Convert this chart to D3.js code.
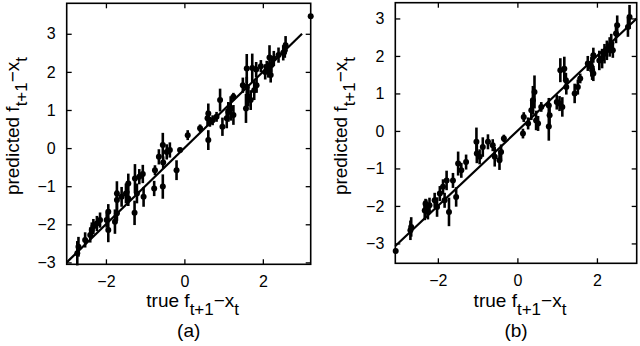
<!DOCTYPE html>
<html>
<head>
<meta charset="utf-8">
<script src="https://d3js.org/d3.v7.min.js"></script>
<style>
  body { margin: 0; background: #fff; }
  svg { display: block; font-family: "Liberation Sans", Arial, sans-serif; }
</style>
</head>
<body>
<div id="chart"></div>
<script>
// panel (a): true vs predicted, with error bar half-lengths
var aTrue = [3.22, 2.58, 2.56, 2.52, 2.40, 2.28, 2.17, 2.22, 2.10, 2.14, 2.20, 2.06, 1.95, 1.83, 1.73, 1.59, 1.59, 1.63, 1.57, 1.69,
	1.78, 1.84, 1.49, 1.25, 1.18, 1.25, 1.12, 1.08, 0.97, 0.91, 0.82, 0.72, 0.65, 0.61, 0.59, 0.61, 0.40, 0.085, -0.11, -0.20,
	-0.37, -0.45, -0.55, -0.65, -0.54, -0.75, -0.55, -0.77, -1.06, -1.15, -1.26, -1.04, -1.21, -1.27, -1.43, -1.49, -1.43, -1.60, -1.72, -1.72,
	-1.72, -1.77, -1.94, -1.98, -1.94, -2.15, -2.23, -2.32, -2.36, -2.40, -2.53, -2.70, -2.73];
var aPred = [3.46, 2.70, 2.57, 2.50, 2.44, 2.35, 2.38, 2.18, 2.13, 2.05, 1.92, 2.00, 2.15, 2.06, 2.10, 2.09, 1.61, 1.35, 1.04, 1.26,
	1.52, 1.65, 1.65, 1.35, 1.04, 0.87, 0.95, 0.78, 0.56, 1.26, 0.82, 0.73, 0.69, 0.91, 0.78, 0.21, 0.52, 0.34, -0.05, -0.58,
	-0.05, -0.10, 0.08, -0.23, -0.38, -0.58, -1.01, -1.06, -0.68, -0.75, -0.80, -1.28, -1.19, -1.70, -0.93, -1.19, -1.32, -1.28, -1.19, -1.36,
	-1.71, -1.93, -1.67, -1.89, -2.15, -1.89, -1.98, -2.06, -2.15, -2.28, -2.41, -2.59, -2.76];
var aErr = [0.06, 0.24, 0.2, 0.2, 0.2, 0.2, 0.32, 0.2, 0.16, 0.2, 0.2, 0.2, 0.16, 0.2, 0.38, 0.38, 0.26, 0.26, 0.38, 0.26,
	0.26, 0.2, 0.2, 0.1, 0.32, 0.26, 0.26, 0.26, 0.24, 0.3, 0.13, 0.13, 0.13, 0.26, 0.2, 0.26, 0.1, 0.13, 0.06, 0.26,
	0.2, 0.2, 0.32, 0.2, 0.16, 0.13, 0.32, 0.2, 0.24, 0.2, 0.38, 0.26, 0.26, 0.32, 0.26, 0.26, 0.2, 0.26, 0.32, 0.26,
	0.2, 0.32, 0.2, 0.2, 0.32, 0.2, 0.2, 0.2, 0.2, 0.2, 0.2, 0.26, 0.32];

// panel (b)
var bTrue = [-3.06, -2.69, -2.67, -2.33, -2.29, -2.25, -2.21, -2.31, -2.08, -2.02, -1.95, -1.87, -1.78, -1.83, -1.72, -1.62, -1.54, -1.49, -1.41, -1.29,
	-1.03, -1.02, -0.95, -0.87, -0.74, -0.62, -0.57, -0.45, -0.41, -0.34, 0.16, 0.14, 0.27, 0.35, 0.39, 0.43, 0.47, 0.52, 0.60, 0.79,
	0.81, 0.79, 0.99, 1.06, 1.13, 1.08, 1.18, 1.22, 1.23, 1.44, 1.52, 1.58, 1.77, 1.86, 1.88, 1.91, 1.91, 2.06, 2.13, 2.19,
	2.25, 2.32, 2.36, 2.40, 2.48, 2.51, 2.78, 2.82];
var bPred = [-3.20, -2.65, -2.56, -2.12, -2.03, -2.16, -1.98, -1.94, -1.85, -2.03, -1.67, -1.49, -1.32, -1.85, -2.16, -1.32, -1.76, -0.87, -1.05, -0.83,
	-0.29, -0.60, -0.69, -0.43, -0.29, -0.38, -0.69, -0.78, -0.56, -0.20, 0.37, -0.07, 0.20, 0.55, 0.82, 1.04, 0.28, 0.20, 0.64, 0.68,
	0.42, 0.12, 0.77, 0.73, 0.64, 1.62, 1.66, 1.35, 1.17, 1.00, 1.17, 1.40, 1.80, 1.71, 1.62, 1.53, 2.02, 1.88, 1.93, 2.06,
	2.15, 2.24, 2.33, 2.15, 2.60, 2.82, 2.77, 3.04];
var bErr = [0.06, 0.26, 0.26, 0.26, 0.2, 0.2, 0.2, 0.13, 0.2, 0.26, 0.2, 0.2, 0.26, 0.2, 0.38, 0.2, 0.26, 0.32, 0.2, 0.2,
	0.38, 0.26, 0.2, 0.26, 0.2, 0.16, 0.26, 0.26, 0.2, 0.1, 0.13, 0.13, 0.16, 0.26, 0.38, 0.44, 0.26, 0.2, 0.13, 0.2,
	0.26, 0.38, 0.2, 0.2, 0.26, 0.32, 0.32, 0.2, 0.2, 0.26, 0.2, 0.13, 0.2, 0.26, 0.26, 0.2, 0.2, 0.26, 0.26, 0.26,
	0.26, 0.26, 0.26, 0.2, 0.26, 0.26, 0.26, 0.32];

var xTicks = [-2, 0, 2];
var yTicks = [-3, -2, -1, 0, 1, 2, 3];

var svg = d3.select("#chart").append("svg")
	.attr("width", 640)
	.attr("height", 346);

function drawPanel(cfg){
	var data = cfg.xs.map(function(d, i){ return {x: d, y: cfg.ys[i], e: cfg.es[i]}; });
	var x = d3.scaleLinear().domain(cfg.xDomain).range([cfg.left, cfg.right]);
	var y = d3.scaleLinear().domain(cfg.yDomain).range([cfg.bottom, cfg.top]);
	var g = svg.append("g");
	var fmt = function(d){ return d < 0 ? "\u2212" + Math.abs(d) : "" + d; };

	// diagonal reference line
	g.append("line")
		.attr("x1", x(cfg.line[0])).attr("y1", y(cfg.line[0]))
		.attr("x2", x(cfg.line[1])).attr("y2", y(cfg.line[1]))
		.attr("stroke", "#000").attr("stroke-width", 2.2);

	// error bars
	g.selectAll("line.err")
		.data(data)
		.enter()
		.append("line")
		.attr("class", "err")
		.attr("x1", function(d){ return x(d.x); })
		.attr("x2", function(d){ return x(d.x); })
		.attr("y1", function(d){ return y(d.y - d.e); })
		.attr("y2", function(d){ return y(d.y + d.e); })
		.attr("stroke", "#000")
		.attr("stroke-width", 2.6);

	g.selectAll("circle")
		.data(data)
		.enter()
		.append("circle")
		.attr("cx", function(d){ return x(d.x); })
		.attr("cy", function(d){ return y(d.y); })
		.attr("r", 3)
		.attr("fill", "#000");

	// box with inward ticks on all four sides
	var xb = d3.axisBottom(x).tickValues(xTicks).tickSizeInner(-5).tickSizeOuter(0).tickPadding(11).tickFormat(fmt);
	var xt = d3.axisTop(x).tickValues(xTicks).tickSizeInner(-5).tickSizeOuter(0).tickFormat("");
	var yl = d3.axisLeft(y).tickValues(yTicks).tickSizeInner(-5).tickSizeOuter(0).tickPadding(11).tickFormat(fmt);
	var yr = d3.axisRight(y).tickValues(yTicks).tickSizeInner(-5).tickSizeOuter(0).tickFormat("");

	[
		[xb, "translate(0," + cfg.bottom + ")"],
		[xt, "translate(0," + cfg.top + ")"],
		[yl, "translate(" + cfg.left + ",0)"],
		[yr, "translate(" + cfg.right + ",0)"]
	].forEach(function(a){
		var ax = g.append("g").attr("transform", a[1]).call(a[0]);
		ax.select(".domain").remove();
		ax.selectAll("line").attr("stroke", "#000").attr("stroke-width", 1.3);
		ax.selectAll("text").attr("font-size", 16).attr("fill", "#000")
			.attr("font-family", "'Liberation Sans', Arial, sans-serif");
	});

	g.append("rect")
		.attr("x", cfg.left).attr("y", cfg.top)
		.attr("width", cfg.right - cfg.left).attr("height", cfg.bottom - cfg.top)
		.attr("fill", "none").attr("stroke", "#000").attr("stroke-width", 1.6);

	// x label: true f_{t+1} - x_t
	var xl = g.append("text")
		.attr("x", (cfg.left + cfg.right) / 2 + 4)
		.attr("y", 307)
		.attr("text-anchor", "middle")
		.attr("font-size", 19);
	xl.append("tspan").text("true f");
	xl.append("tspan").attr("dy", 8).attr("font-size", 17).text("t+1");
	xl.append("tspan").attr("dy", -8).text("\u2212x");
	xl.append("tspan").attr("dy", 8).attr("font-size", 17).text("t");

	// y label: predicted f_{t+1} - x_t
	var ylab = g.append("text")
		.attr("transform", "translate(" + (cfg.left - 48) + "," + 126 + ") rotate(-90)")
		.attr("text-anchor", "middle")
		.attr("font-size", 19);
	ylab.append("tspan").text("predicted f");
	ylab.append("tspan").attr("dy", 8).attr("font-size", 17).text("t+1");
	ylab.append("tspan").attr("dy", -8).text("\u2212x");
	ylab.append("tspan").attr("dy", 8).attr("font-size", 17).text("t");

	g.append("text")
		.attr("x", (cfg.left + cfg.right) / 2)
		.attr("y", 337)
		.attr("text-anchor", "middle")
		.attr("font-size", 19)
		.text(cfg.tag);
}

drawPanel({
	xs: aTrue, ys: aPred, es: aErr,
	xDomain: [-3, 3.22], yDomain: [-3.05, 3.8],
	left: 66.7, right: 310.7, top: 3.3, bottom: 264.3,
	line: [-3, 3], tag: "(a)"
});

drawPanel({
	xs: bTrue, ys: bPred, es: bErr,
	xDomain: [-3.07, 3.0], yDomain: [-3.53, 3.42],
	left: 395.3, right: 636.7, top: 2.7, bottom: 263.3,
	line: [-3.07, 3.0], tag: "(b)"
});
</script>
</body>
</html>
